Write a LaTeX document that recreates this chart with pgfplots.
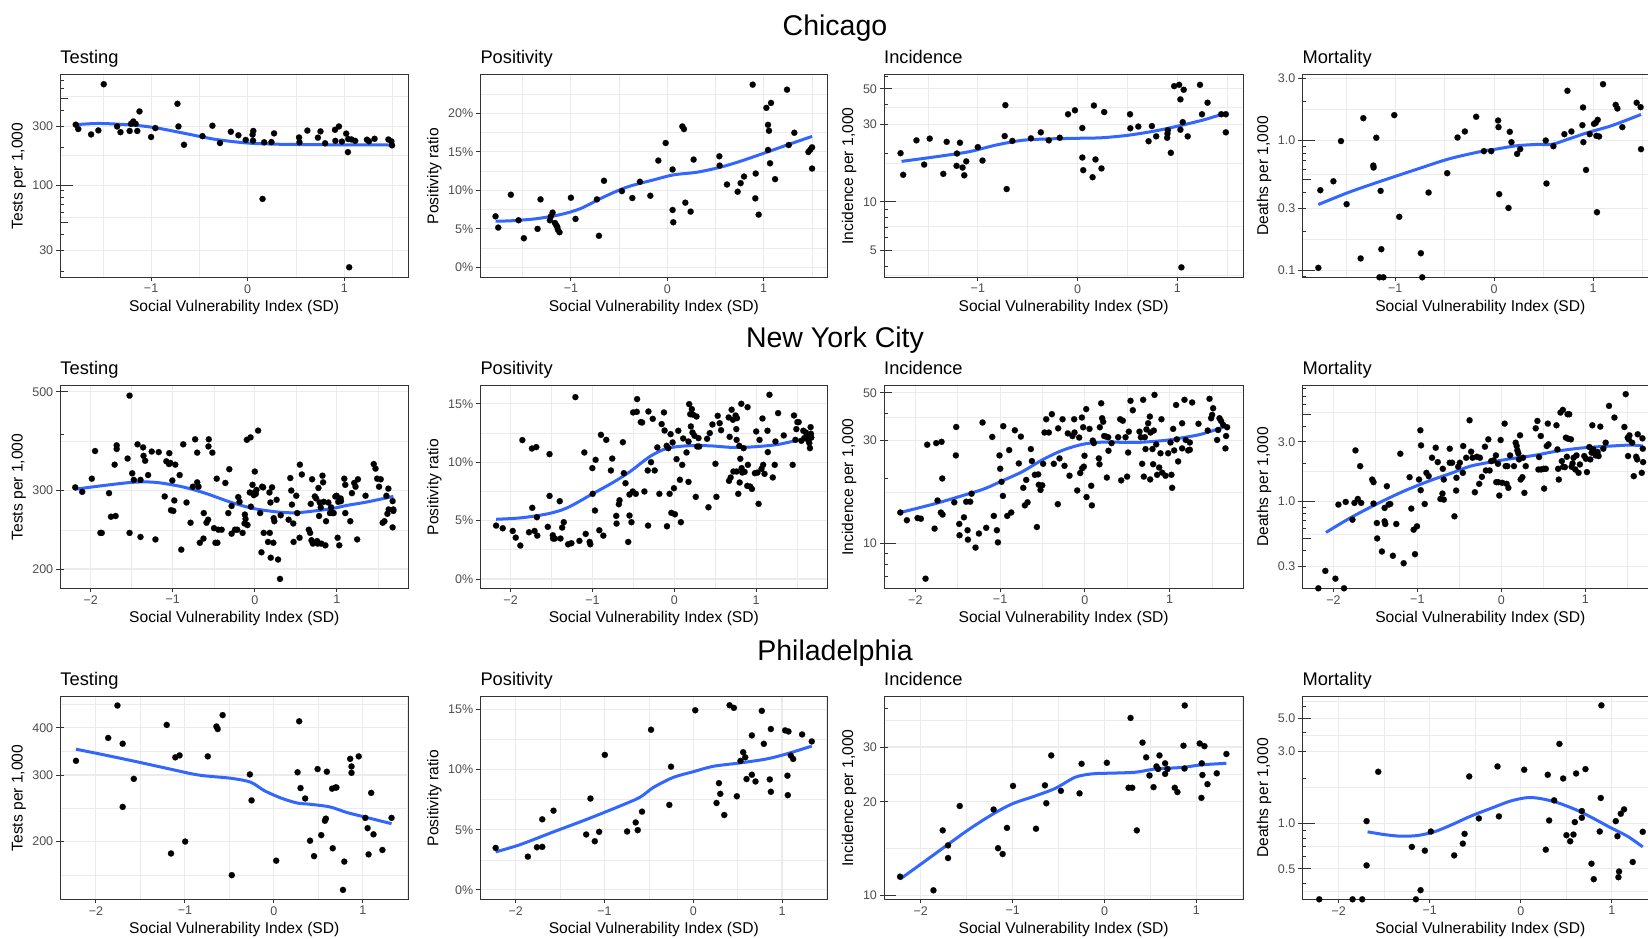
\documentclass[border=0pt]{standalone}
\usepackage{fontspec}
\setmainfont{Liberation Sans}
\usepackage{pgfplots}
\pgfplotsset{compat=1.18}
\definecolor{grey20}{HTML}{333333}
\definecolor{grey30}{HTML}{4D4D4D}
\definecolor{gridc}{HTML}{EBEBEB}
\definecolor{smoothc}{HTML}{3366FF}
\newcommand{\ticksz}{\fontsize{12.5pt}{14pt}\selectfont}
\newcommand{\labsz}{\fontsize{15.6pt}{18pt}\selectfont}
\newcommand{\subsz}{\fontsize{18.3pt}{21pt}\selectfont}
\newcommand{\titsz}{\fontsize{28.5pt}{32pt}\selectfont}
\newcommand{\logt}[2]{\pgfplotsinvokeforeach{#1}{\draw[grey20,line width=0.9pt] ({rel axis cs:0,0} |- {axis cs:0,##1}) -- ++(#2,0pt);}}
\pgfplotsset{
  every axis title/.style={at={(0,1)}, anchor=base west, inner sep=0pt, yshift=11.6pt, font=\subsz},
  panel/.style={
    scale only axis, height=202.5pt, anchor=south west,
    axis line style={grey20, line width=0.9pt},
    tick style={grey20, line width=0.9pt},
    tick align=outside, tick pos=left, major tick length=3.9pt, minor tick length=0pt,
    xmajorgrids, ymajorgrids, xminorgrids, yminorgrids,
    major grid style={gridc, line width=1.1pt},
    minor grid style={gridc, line width=0.55pt},
    xticklabel style={font=\ticksz, text=grey30, inner sep=3pt},
    yticklabel style={font=\ticksz, text=grey30, inner sep=3pt},
    label style={font=\labsz},
    xlabel={Social Vulnerability Index (SD)},
    xlabel style={at={(axis description cs:0.5,0)}, anchor=base, yshift=-34pt},
  },
  chi/.style={xmin=-1.94, xmax=1.66, xtick={-1,0,1}, xticklabels={−1,0,1}, minor xtick={-1.5,-0.5,0.5,1.5}},
  nyc/.style={xmin=-2.37, xmax=1.87, xtick={-2,-1,0,1}, xticklabels={−2,−1,0,1}, minor xtick={-1.5,-0.5,0.5,1.5}},
  phl/.style={xmin=-2.40, xmax=1.51, xtick={-2,-1,0,1}, xticklabels={−2,−1,0,1}, minor xtick={-1.5,-0.5,0.5,1.5}},
  pts/.style={only marks, mark=*, mark size=3.1pt, mark options={fill=black, draw=black, line width=0.1pt}},
  fit/.style={smoothc, line width=3pt, smooth, tension=0.5, no marks},
}
\begin{document}
\begin{tikzpicture}[x=1pt,y=1pt]
\useasboundingbox (0,0) rectangle (1648,938);
\node[font=\titsz, anchor=base] at (835,902) {Chicago};
\node[font=\titsz, anchor=base] at (835,590.3) {New York City};
\node[font=\titsz, anchor=base] at (835,278) {Philadelphia};

% ---------------- Chicago ----------------
\begin{axis}[panel, chi, at={(60.3pt,660.7pt)}, width=347.7pt,
  ymode=log, ymin=18.1, ymax=778, ytick={30,100,300}, yticklabels={30,100,300},
  minor ytick={54.8,173.2,519.6}, ylabel={Tests per 1,000}, title={Testing}]
\addplot[pts] coordinates {(-1.78,308) (-1.754,284) (-1.621,257) (-1.546,277) (-1.49,653) (-1.352,298) (-1.317,268) (-1.222,274) (-1.208,313) (-1.184,327) (-1.16,313) (-1.143,274) (-1.12,394) (-1.0,245) (-0.956,289) (-0.727,454) (-0.717,298) (-0.659,212) (-0.468,249) (-0.365,302) (-0.287,219) (-0.174,270) (-0.096,253) (-0.02,232) (0.051,256) (0.058,274) (0.055,229) (0.171,222) (0.154,77.6) (0.246,223) (0.273,262) (0.532,243) (0.536,222) (0.618,276) (0.727,242) (0.754,272) (0.802,218) (0.904,280) (0.945,298) (0.908,228) (0.976,225) (1.02,261) (1.041,236) (1.038,185) (1.075,234) (1.113,228) (1.051,21.8) (1.235,233) (1.256,226) (1.314,237) (1.457,234) (1.488,226) (1.495,210)};
\addplot[fit] coordinates {(-1.78,308) (-1.536,315) (-1.195,306) (-0.956,291) (-0.683,265) (-0.341,235) (0,219) (0.341,214) (0.853,212) (1.195,212) (1.495,211)};
\logt{20,30,40,60,70,80,90,200,300,400,600,700}{4.1pt}
\logt{50,500}{8.2pt}
\logt{100}{12.3pt}
\end{axis}

\begin{axis}[panel, chi, at={(480.3pt,660.7pt)}, width=347pt,
  ymin=-1.29, ymax=24.98, ytick={0,5,10,15,20}, yticklabels={0\%,5\%,10\%,15\%,20\%},
  minor ytick={2.5,7.5,12.5,17.5,22.5}, ylabel={Positivity ratio}, title={Positivity}]
\addplot[pts] coordinates {(-1.782,6.62) (-1.754,5.16) (-1.623,9.42) (-1.543,6.11) (-1.488,3.78) (-1.346,4.99) (-1.315,8.82) (-1.218,6.11) (-1.19,7.10) (-1.208,6.62) (-1.166,5.76) (-1.142,5.25) (-1.152,5.46) (-1.135,4.90) (-1.118,4.56) (-1.0,9.03) (-0.952,6.28) (-0.73,8.82) (-0.709,4.09) (-0.657,11.23) (-0.471,9.89) (-0.363,8.99) (-0.284,11.1) (-0.176,9.29) (-0.093,13.85) (-0.017,16.13) (0.055,12.69) (0.055,7.44) (0.062,5.85) (0.156,18.28) (0.173,17.94) (0.187,8.39) (0.242,7.23) (0.273,13.98) (0.54,14.41) (0.543,13.2) (0.619,10.75) (0.73,9.81) (0.761,10.92) (0.796,11.78) (0.886,23.7) (0.917,12.17) (0.913,8.95) (0.948,6.84) (1.028,20.69) (1.045,18.49) (1.055,17.72) (1.076,21.33) (1.045,15.23) (1.066,13.5) (1.118,11.44) (1.242,23.05) (1.26,15.87) (1.318,17.46) (1.464,14.97) (1.484,15.27) (1.502,15.57) (1.502,12.82)};
\addplot[fit] coordinates {(-1.782,5.98) (-1.595,6.06) (-1.353,6.32) (-1.111,6.84) (-0.903,7.61) (-0.661,9.12) (-0.419,10.41) (-0.142,11.35) (0.066,12.0) (0.308,12.34) (0.55,12.99) (0.758,13.76) (1.0,14.8) (1.242,15.87) (1.502,16.99)};
\end{axis}

\begin{axis}[panel, chi, at={(884pt,660.7pt)}, width=359.3pt,
  ymode=log, ymin=3.42, ymax=61, ytick={5,10,30,50}, yticklabels={5,10,30,50},
  minor ytick={3.54,7.07,17.3,38.7}, ylabel={Incidence per 1,000}, title={Incidence}]
\addplot[pts] coordinates {(-1.774,20.0) (-1.748,14.7) (-1.615,24.0) (-1.538,17.0) (-1.482,24.6) (-1.346,14.9) (-1.312,23.5) (-1.209,19.9) (-1.213,16.7) (-1.179,23.2) (-1.153,16.3) (-1.136,14.6) (-1.116,17.8) (-1.0,21.8) (-0.953,18.0) (-0.731,25.5) (-0.724,39.6) (-0.711,12.0) (-0.654,23.8) (-0.468,24.7) (-0.369,26.9) (-0.289,24.0) (-0.179,24.9) (-0.096,34.8) (-0.027,36.8) (0.047,28.6) (0.047,18.8) (0.056,15.7) (0.15,14.2) (0.163,39.4) (0.179,18.3) (0.239,16.1) (0.266,35.9) (0.525,34.8) (0.528,28.5) (0.608,29.2) (0.711,23.7) (0.744,29.4) (0.787,25.4) (0.897,24.9) (0.9,26.4) (0.904,27.7) (0.934,20.1) (0.967,51.9) (1.017,52.9) (1.03,43.0) (1.063,49.3) (1.03,27.9) (1.053,31.1) (1.04,3.94) (1.103,25.4) (1.226,52.9) (1.246,34.8) (1.302,41.0) (1.439,34.8) (1.485,34.8) (1.485,26.9)};
\addplot[fit] coordinates {(-1.764,17.8) (-1.422,19.0) (-1.09,20.4) (-0.824,22.4) (-0.558,24.0) (-0.292,24.5) (-0.027,24.7) (0.239,24.9) (0.505,25.8) (0.771,27.4) (1.037,29.7) (1.269,32.2) (1.485,35.4)};
\logt{4,6,7,8,9,20,30,40,60}{4.1pt}
\logt{5,50}{8.2pt}
\logt{10}{12.3pt}
\end{axis}

\begin{axis}[panel, chi, at={(1302.3pt,660.7pt)}, width=356pt,
  ymode=log, ymin=0.0888, ymax=3.2, ytick={0.1,0.3,1,3}, yticklabels={0.1,0.3,1.0,3.0},
  minor ytick={0.173,0.548,1.732}, ylabel={Deaths per 1,000}, title={Mortality}]
\addplot[pts] coordinates {(-1.778,0.105) (-1.758,0.415) (-1.626,0.486) (-1.549,0.99) (-1.492,0.324) (-1.35,0.124) (-1.323,1.485) (-1.222,0.642) (-1.219,0.62) (-1.192,1.05) (-1.148,0.41) (-1.141,0.146) (-1.16,0.0888) (-1.12,0.0888) (-1.01,1.567) (-0.96,0.259) (-0.741,0.136) (-0.727,0.0888) (-0.663,0.398) (-0.475,0.561) (-0.37,1.054) (-0.296,1.173) (-0.182,1.522) (-0.104,0.828) (-0.03,0.828) (0.04,1.425) (0.044,1.267) (0.051,0.387) (0.145,0.303) (0.158,1.166) (0.175,0.971) (0.232,0.789) (0.263,0.858) (0.522,1.0) (0.529,0.467) (0.599,0.904) (0.71,1.119) (0.741,2.41) (0.781,1.173) (0.899,1.795) (0.892,1.312) (0.902,0.971) (0.929,0.594) (0.966,1.119) (1.01,1.343) (1.027,1.368) (1.047,1.442) (1.04,0.281) (1.034,1.086) (1.061,1.073) (1.101,2.71) (1.229,1.88) (1.246,1.762) (1.296,1.267) (1.441,1.95) (1.481,1.804) (1.485,0.858)};
\addplot[fit] coordinates {(-1.778,0.322) (-1.465,0.401) (-1.128,0.492) (-0.791,0.598) (-0.455,0.723) (-0.118,0.828) (0.017,0.858) (0.219,0.910) (0.421,0.932) (0.589,0.937) (0.758,1.03) (0.96,1.159) (1.162,1.281) (1.33,1.426) (1.485,1.585)};
\logt{0.09,0.2,0.3,0.4,0.6,0.7,0.8,0.9,2,3}{4.1pt}
\logt{0.5}{8.2pt}
\logt{0.1,1}{12.3pt}
\end{axis}

% ---------------- New York City ----------------
\begin{axis}[panel, nyc, at={(60.3pt,349.7pt)}, width=348pt,
  ymode=log, ymin=181, ymax=515.6, ytick={200,300,500}, yticklabels={200,300,500},
  minor ytick={244.9,387.3}, ylabel={Tests per 1,000}, title={Testing}]
\addplot[pts] coordinates {(-2.188,305) (-2.103,298) (-1.986,319) (-1.946,368) (-1.776,296) (-1.752,262) (-1.696,263) (-1.881,241) (-1.865,241) (-1.708,343) (-1.683,379) (-1.683,372) (-1.55,354) (-1.526,241) (-1.526,490) (-1.494,328) (-1.474,317) (-1.429,381) (-1.393,317) (-1.393,236) (-1.361,375) (-1.356,359) (-1.336,350) (-1.3,325) (-1.256,367) (-1.211,233) (-1.171,366) (-1.098,291) (-1.078,349) (-1.042,364) (-1.046,344) (-1.029,346) (-1.021,271) (-1.005,316) (-0.993,270) (-0.981,285) (-0.969,343) (-0.916,325) (-0.896,221) (-0.872,381) (-0.832,282) (-0.783,254) (-0.755,306) (-0.727,391) (-0.702,365) (-0.702,313) (-0.686,306) (-0.67,229) (-0.626,234) (-0.622,267) (-0.589,254) (-0.569,258) (-0.565,377) (-0.561,391) (-0.517,365) (-0.497,247) (-0.48,229) (-0.464,319) (-0.456,229) (-0.444,245) (-0.404,245) (-0.359,312) (-0.323,267) (-0.311,335) (-0.283,277) (-0.283,240) (-0.242,245) (-0.214,245) (-0.202,290) (-0.186,283) (-0.149,241) (-0.125,253) (-0.121,265) (-0.113,259) (-0.089,251) (-0.097,390) (-0.061,297) (-0.052,395) (-0.048,276) (0,331) (-0.028,309) (-0.012,293) (0,297) (0.012,295) (0.02,301) (0.04,409) (0.065,267) (0.081,218) (0.089,306) (0.101,305) (0.109,241) (0.161,230) (0.178,297) (0.182,241) (0.19,282) (0.194,212) (0.21,305) (0.23,260) (0.226,229) (0.238,256) (0.266,286) (0.283,210) (0.307,190) (0.315,264) (0.412,258) (0.432,320) (0.444,300) (0.452,279) (0.468,253) (0.472,230) (0.505,292) (0.517,267) (0.545,235) (0.549,343) (0.573,326) (0.658,245) (0.674,241) (0.682,280) (0.69,232) (0.698,318) (0.707,228) (0.731,291) (0.747,288) (0.759,231) (0.767,228) (0.775,304) (0.783,263) (0.791,282) (0.803,275) (0.811,228) (0.824,324) (0.832,313) (0.84,283) (0.86,226) (0.868,256) (0.896,282) (0.916,267) (0.929,275) (0.949,267) (0.961,267) (0.981,291) (0.997,292) (1.009,235) (1.017,283) (1.029,226) (1.046,288) (1.05,284) (1.09,319) (1.102,309) (1.102,267) (1.163,256) (1.183,296) (1.211,312) (1.227,306) (1.247,233) (1.256,318) (1.349,292) (1.449,344) (1.47,336) (1.49,319) (1.514,306) (1.534,318) (1.558,254) (1.579,256) (1.603,292) (1.615,266) (1.627,303) (1.679,284) (1.688,272) (1.688,270) (1.679,248) (1.631,272)};
\addplot[fit] coordinates {(-2.188,302) (-1.897,307) (-1.494,313) (-1.211,313) (-0.888,306) (-0.606,296) (-0.283,282) (0,273) (0.323,268) (0.525,267.6) (0.727,270) (0.929,273) (1.13,278) (1.332,282) (1.534,287) (1.688,291)};
\logt{200,300,400}{4.1pt}
\logt{500}{8.2pt}
\end{axis}

\begin{axis}[panel, nyc, at={(480.3pt,349.7pt)}, width=347pt,
  ymin=-0.8, ymax=16.54, ytick={0,5,10,15}, yticklabels={0\%,5\%,10\%,15\%},
  minor ytick={2.5,7.5,12.5}, ylabel={Positivity ratio}, title={Positivity}]
\addplot[pts] coordinates {(-2.177,4.57) (-2.096,4.34) (-1.974,4.11) (-1.937,3.54) (-1.881,2.86) (-1.856,11.89) (-1.775,4.0) (-1.739,11.17) (-1.735,6.09) (-1.707,4.11) (-1.686,11.29) (-1.678,5.29) (-1.674,3.71) (-1.545,4.46) (-1.524,10.69) (-1.524,7.11) (-1.484,3.74) (-1.48,3.46) (-1.459,3.46) (-1.399,6.66) (-1.39,3.46) (-1.37,4.4) (-1.35,4.86) (-1.297,2.97) (-1.257,3.06) (-1.208,15.57) (-1.159,3.26) (-1.099,10.83) (-1.082,3.86) (-1.034,3.17) (-1.026,2.97) (-1.001,9.49) (-0.997,7.29) (-0.969,5.86) (-0.961,10.2) (-0.916,4.17) (-0.896,12.34) (-0.867,3.71) (-0.831,11.91) (-0.758,10.31) (-0.774,9.29) (-0.709,5.4) (-0.705,4.74) (-0.677,6.4) (-0.669,6.74) (-0.628,11.71) (-0.616,9.06) (-0.596,8.2) (-0.563,3.17) (-0.547,5.43) (-0.547,7.23) (-0.523,4.86) (-0.507,7.49) (-0.503,14.26) (-0.47,7.29) (-0.458,14.31) (-0.454,15.4) (-0.409,13.43) (-0.393,13.4) (-0.365,7.49) (-0.324,9.29) (-0.32,4.57) (-0.316,14.34) (-0.284,10.0) (-0.263,13.71) (-0.239,9.29) (-0.207,11.26) (-0.182,7.29) (-0.154,13.26) (-0.126,14.26) (-0.118,12.71) (-0.093,11.4) (-0.089,4.51) (-0.073,11.2) (-0.057,7.29) (-0.045,12.4) (-0.036,5.66) (-0.02,11.69) (-0.004,7.77) (0.008,5.54) (0.028,10.26) (0.049,12.69) (0.069,8.49) (0.081,4.86) (0.097,9.77) (0.109,12.03) (0.15,10.83) (0.174,8.31) (0.174,11.77) (0.182,14.97) (0.195,14.11) (0.203,13.06) (0.215,14.54) (0.223,12.54) (0.231,14.06) (0.247,12.26) (0.263,7.03) (0.272,13.91) (0.28,11.34) (0.296,12.06) (0.304,11.34) (0.418,6.14) (0.401,12.0) (0.434,12.49) (0.466,13.23) (0.503,9.86) (0.515,7.03) (0.531,13.97) (0.555,13.34) (0.572,12.74) (0.669,8.4) (0.665,13.83) (0.677,12.17) (0.689,8.69) (0.701,14.49) (0.717,13.63) (0.722,9.2) (0.75,14.0) (0.762,9.2) (0.766,13.77) (0.758,12.83) (0.762,11.91) (0.782,7.29) (0.795,11.4) (0.799,8.26) (0.807,10.29) (0.819,15.0) (0.823,9.49) (0.831,9.11) (0.847,11.2) (0.859,9.17) (0.892,7.97) (0.896,14.71) (0.9,9.77) (0.928,7.91) (0.949,7.71) (0.985,9.06) (1.001,12.63) (1.017,9.11) (1.03,6.43) (1.042,11.91) (1.066,9.43) (1.078,13.74) (1.086,9.77) (1.103,9.0) (1.139,12.69) (1.143,10.86) (1.163,15.77) (1.204,8.69) (1.228,9.77) (1.236,11.77) (1.269,14.2) (1.338,12.29) (1.447,9.77) (1.463,14.0) (1.48,11.91) (1.492,12.83) (1.504,13.43) (1.52,13.43) (1.553,11.83) (1.577,12.69) (1.589,12.06) (1.609,12.54) (1.626,12.14) (1.638,11.86) (1.65,11.63) (1.658,11.2) (1.666,13.0) (1.67,12.43) (1.674,12.11)};
\addplot[fit] coordinates {(-2.177,5.11) (-1.877,5.23) (-1.552,5.57) (-1.309,6.09) (-0.985,7.34) (-0.742,8.29) (-0.539,9.2) (-0.296,10.49) (-0.093,11.17) (0.15,11.4) (0.434,11.4) (0.717,11.26) (0.961,11.31) (1.285,11.54) (1.67,12.17)};
\end{axis}

\begin{axis}[panel, nyc, at={(884pt,349.7pt)}, width=359.3pt,
  ymode=log, ymin=6.18, ymax=53.9, ytick={10,30,50}, yticklabels={10,30,50},
  minor ytick={17.3,38.7}, ylabel={Incidence per 1,000}, title={Incidence}]
\addplot[pts] coordinates {(-2.178,13.9) (-2.1,12.8) (-1.974,13.1) (-1.935,13.0) (-1.88,6.85) (-1.86,28.7) (-1.773,11.7) (-1.754,29.2) (-1.738,15.8) (-1.699,13.9) (-1.691,29.6) (-1.683,20.0) (-1.679,13.6) (-1.541,15.5) (-1.522,25.6) (-1.518,34.7) (-1.482,12.3) (-1.479,10.9) (-1.427,13.2) (-1.4,15.6) (-1.384,11.5) (-1.38,10.4) (-1.353,15.6) (-1.337,17.0) (-1.29,9.55) (-1.25,11.1) (-1.207,36.4) (-1.164,11.8) (-1.093,31.2) (-1.074,13.4) (-1.038,11.5) (-1.026,10.1) (-1.007,25.6) (-0.999,22.2) (-0.983,19.3) (-0.967,16.6) (-0.963,35.0) (-0.916,13.4) (-0.893,27.1) (-0.869,13.9) (-0.826,33.5) (-0.779,23.5) (-0.755,31.3) (-0.727,18.1) (-0.708,15.0) (-0.692,19.7) (-0.676,15.5) (-0.637,27.4) (-0.625,24.1) (-0.59,20.8) (-0.566,11.9) (-0.551,20.9) (-0.543,18.7) (-0.523,17.7) (-0.503,18.6) (-0.492,23.4) (-0.456,37.7) (-0.476,32.7) (-0.425,32.7) (-0.389,39.8) (-0.366,23.4) (-0.319,15.2) (-0.315,34.2) (-0.299,24.8) (-0.263,37.7) (-0.24,22.9) (-0.201,32.4) (-0.181,20.6) (-0.146,31.5) (-0.126,37.7) (-0.122,32.7) (-0.09,17.6) (-0.067,31.0) (-0.055,21.2) (-0.035,38.4) (-0.031,22.3) (-0.02,34.6) (-0.012,22.7) (-0.004,25.5) (0.016,42.0) (0.02,16.4) (0.055,34.0) (0.075,18.5) (0.083,15.0) (0.094,30.0) (0.106,29.2) (0.165,24.8) (0.173,23.3) (0.177,34.6) (0.193,44.7) (0.204,38.1) (0.216,36.7) (0.228,31.5) (0.252,31.3) (0.26,20.2) (0.275,31.1) (0.279,26.9) (0.315,29.2) (0.393,31.1) (0.417,37.7) (0.429,19.6) (0.448,37.1) (0.48,31.1) (0.499,20.4) (0.511,26.4) (0.519,33.0) (0.539,45.9) (0.566,41.5) (0.645,33.0) (0.661,31.1) (0.676,23.4) (0.688,46.4) (0.696,20.4) (0.708,31.1) (0.716,27.4) (0.727,33.8) (0.747,36.1) (0.767,38.8) (0.771,19.8) (0.775,32.7) (0.798,27.4) (0.806,23.3) (0.814,33.4) (0.822,48.9) (0.842,28.8) (0.853,20.8) (0.877,22.5) (0.893,26.2) (0.904,37.7) (0.912,21.3) (0.952,20.6) (0.983,26.2) (1.011,29.4) (1.022,20.8) (1.03,18.1) (1.042,34.0) (1.054,27.0) (1.077,43.9) (1.085,30.4) (1.101,24.0) (1.148,27.6) (1.148,36.1) (1.176,46.4) (1.191,30.2) (1.219,27.0) (1.239,29.4) (1.239,27.2) (1.266,45.1) (1.341,35.9) (1.451,33.4) (1.471,46.9) (1.49,38.1) (1.502,39.5) (1.514,42.4) (1.561,30.2) (1.573,33.6) (1.589,38.1) (1.608,37.0) (1.632,35.5) (1.659,27.6) (1.667,31.5) (1.679,34.6)};
\addplot[fit] coordinates {(-2.178,13.9) (-1.762,15.3) (-1.368,17.0) (-1.172,18.0) (-0.975,19.5) (-0.739,21.5) (-0.503,24.4) (-0.267,27.0) (-0.031,28.8) (0.204,29.5) (0.598,29.4) (0.794,29.7) (0.991,30.2) (1.188,31.1) (1.384,32.2) (1.679,35.1)};
\logt{7,8,9,20,30,40}{4.1pt}
\logt{50}{8.2pt}
\logt{10}{12.3pt}
\end{axis}

\begin{axis}[panel, nyc, at={(1302.3pt,349.7pt)}, width=356pt,
  ymode=log, ymin=0.2, ymax=8.46, ytick={0.3,1,3}, yticklabels={0.3,1.0,3.0},
  minor ytick={0.548,1.732,5.2}, ylabel={Deaths per 1,000}, title={Mortality}]
\addplot[pts] coordinates {(-2.179,0.2) (-2.096,0.276) (-1.976,0.239) (-1.873,0.2) (-1.94,0.94) (-1.853,0.988) (-1.773,0.711) (-1.749,0.97) (-1.737,2.562) (-1.709,1.044) (-1.681,1.915) (-1.669,0.97) (-1.538,1.495) (-1.522,1.424) (-1.522,0.958) (-1.482,0.669) (-1.478,0.503) (-1.422,0.395) (-1.39,0.884) (-1.39,0.69) (-1.382,0.657) (-1.363,1.321) (-1.342,0.94) (-1.323,0.951) (-1.291,0.365) (-1.251,0.657) (-1.203,2.408) (-1.163,0.318) (-1.092,1.561) (-1.072,0.873) (-1.044,0.591) (-1.028,0.376) (-1.004,0.629) (-0.98,1.495) (-0.964,3.715) (-0.956,2.811) (-0.96,1.227) (-0.912,0.951) (-0.892,1.692) (-0.865,1.591) (-0.825,2.236) (-0.781,2.692) (-0.757,2.063) (-0.725,1.044) (-0.701,1.153) (-0.697,1.823) (-0.685,1.495) (-0.685,1.031) (-0.614,2.643) (-0.614,2.038) (-0.586,2.038) (-0.558,0.757) (-0.534,1.543) (-0.538,1.219) (-0.514,1.893) (-0.494,2.038) (-0.454,2.777) (-0.458,1.692) (-0.418,2.236) (-0.378,4.473) (-0.359,2.5) (-0.343,2.236) (-0.315,1.182) (-0.291,2.277) (-0.263,1.38) (-0.255,2.236) (-0.231,1.571) (-0.195,2.743) (-0.183,1.768) (-0.155,3.143) (-0.139,1.768) (-0.12,2.102) (-0.092,2.13) (-0.064,2.335) (-0.06,1.424) (-0.04,2.0) (-0.036,1.424) (-0.024,1.111) (-0.008,3.104) (0.012,1.406) (0.04,4.204) (0.052,1.915) (0.064,1.38) (0.084,1.281) (0.072,1.915) (0.104,2.335) (0.151,1.915) (0.171,2.954) (0.183,2.777) (0.191,2.562) (0.203,2.423) (0.211,2.168) (0.223,3.385) (0.231,1.495) (0.251,1.561) (0.259,2.236) (0.275,1.168) (0.291,1.915) (0.41,3.855) (0.43,4.417) (0.442,1.8) (0.45,2.264) (0.47,3.345) (0.474,1.8) (0.506,1.823) (0.51,1.265) (0.53,1.823) (0.542,2.777) (0.554,4.204) (0.562,2.866) (0.657,4.076) (0.669,2.61) (0.677,1.823) (0.685,1.495) (0.705,5.157) (0.721,2.102) (0.733,5.418) (0.737,1.893) (0.757,1.88) (0.769,3.242) (0.781,2.277) (0.789,5.0) (0.809,5.0) (0.797,3.177) (0.829,3.143) (0.837,1.893) (0.849,2.013) (0.861,2.236) (0.881,1.8) (0.896,2.335) (0.92,1.692) (0.936,1.976) (0.988,2.307) (1.008,2.195) (1.02,1.714) (1.048,2.726) (1.06,2.168) (1.076,2.456) (1.084,4.076) (1.096,2.61) (1.124,2.335) (1.147,2.485) (1.159,2.307) (1.179,3.977) (1.215,2.643) (1.243,2.954) (1.283,5.837) (1.347,4.7) (1.466,3.952) (1.482,7.249) (1.506,3.242) (1.51,2.307) (1.518,3.143) (1.526,3.385) (1.558,2.954) (1.578,1.591) (1.606,2.277) (1.618,2.168) (1.625,3.452) (1.673,1.692) (1.681,3.203) (1.685,2.643) (1.689,2.063)};
\addplot[fit] coordinates {(-2.088,0.562) (-1.801,0.734) (-1.482,0.952) (-1.163,1.204) (-0.845,1.468) (-0.606,1.671) (-0.367,1.915) (-0.127,2.063) (0.112,2.195) (0.39,2.335) (0.669,2.531) (0.988,2.692) (1.307,2.777) (1.546,2.829) (1.685,2.777)};
\logt{0.2,0.3,0.4,0.6,0.7,0.8,0.9,2,3,4,6,7,8}{4.1pt}
\logt{0.5,5}{8.2pt}
\logt{1}{12.3pt}
\end{axis}

% ---------------- Philadelphia ----------------
\begin{axis}[panel, phl, at={(60.3pt,38.7pt)}, width=348pt,
  ymode=log, ymin=140.7, ymax=483, ytick={200,300,400}, yticklabels={200,300,400},
  minor ytick={163.3,244.9,346.4,462.5}, ylabel={Tests per 1,000}, title={Testing}]
\addplot[pts] coordinates {(-2.224,327) (-1.862,376) (-1.758,458) (-1.699,363) (-1.699,247) (-1.574,293) (-1.204,407) (-1.156,186) (-1.108,334) (-1.06,338) (-0.997,200) (-0.743,336) (-0.646,403) (-0.632,397) (-0.576,432) (-0.473,163) (-0.27,301) (-0.251,257) (0.026,178) (0.266,305) (0.284,416) (0.299,277) (0.351,260) (0.406,201) (0.451,183) (0.491,311) (0.532,208) (0.573,227) (0.584,230) (0.595,306) (0.654,276) (0.661,192) (0.691,278) (0.702,278) (0.776,149) (0.791,177) (0.857,331) (0.872,316) (0.872,304) (0.953,336) (1.027,231) (1.053,217) (1.064,185) (1.093,269) (1.119,209) (1.219,190) (1.322,231)};
\addplot[fit] coordinates {(-2.224,351) (-1.958,341) (-1.588,327) (-1.219,313) (-0.85,300) (-0.48,294) (-0.259,287) (-0.111,273) (0.074,261) (0.259,253) (0.406,251) (0.628,247) (0.813,239) (0.997,233) (1.322,223)};
\logt{200,300,400}{4.1pt}
\end{axis}

\begin{axis}[panel, phl, at={(480.3pt,38.7pt)}, width=347pt,
  ymin=-0.78, ymax=16.06, ytick={0,5,10,15}, yticklabels={0\%,5\%,10\%,15\%},
  minor ytick={2.5,7.5,12.5}, ylabel={Positivity ratio}, title={Positivity}]
\addplot[pts] coordinates {(-2.227,3.49) (-1.864,2.77) (-1.762,3.55) (-1.702,3.58) (-1.702,5.87) (-1.575,6.59) (-1.207,4.61) (-1.159,7.6) (-1.11,4.05) (-1.061,4.83) (-0.997,11.23) (-0.746,4.86) (-0.649,5.61) (-0.626,4.97) (-0.578,6.51) (-0.476,13.32) (-0.27,7.07) (-0.251,10.25) (0.022,14.94) (0.262,7.23) (0.289,8.88) (0.304,7.99) (0.349,6.23) (0.409,15.36) (0.457,15.14) (0.491,7.79) (0.532,10.73) (0.562,11.45) (0.585,11.03) (0.6,9.22) (0.66,12.85) (0.66,9.58) (0.701,9.02) (0.772,14.89) (0.795,12.15) (0.862,9.19) (0.874,13.38) (0.874,8.16) (1.035,13.27) (1.061,9.5) (1.065,7.88) (1.072,13.18) (1.099,11.17) (1.125,10.89) (1.226,12.93) (1.335,12.35)};
\addplot[fit] coordinates {(-2.227,3.16) (-1.95,3.77) (-1.575,4.83) (-1.2,5.87) (-0.825,6.98) (-0.6,7.71) (-0.45,8.52) (-0.225,9.36) (0,9.83) (0.225,10.28) (0.525,10.56) (0.825,10.89) (1.05,11.31) (1.335,11.96)};
\end{axis}

\begin{axis}[panel, phl, at={(884pt,38.7pt)}, width=359.3pt,
  ymode=log, ymin=9.73, ymax=43.5, ytick={10,20,30}, yticklabels={10,20,30},
  minor ytick={14.14,24.5,36.7}, ylabel={Incidence per 1,000}, title={Incidence}]
\addplot[pts] coordinates {(-2.225,11.5) (-1.862,10.4) (-1.761,16.2) (-1.703,14.5) (-1.703,13.2) (-1.576,19.4) (-1.207,18.9) (-1.159,14.2) (-1.109,13.6) (-1.062,16.5) (-0.996,22.5) (-0.746,16.4) (-0.649,22.6) (-0.634,19.8) (-0.58,28.2) (-0.475,21.7) (-0.272,21.3) (-0.25,26.5) (0.025,26.7) (0.261,22.2) (0.301,22.2) (0.283,37.2) (0.351,16.2) (0.413,31.0) (0.453,27.8) (0.489,24.3) (0.533,22.3) (0.565,26.0) (0.598,28.2) (0.583,25.5) (0.659,26.6) (0.659,24.6) (0.685,25.5) (0.764,22.2) (0.793,21.5) (0.859,30.3) (0.87,25.6) (0.873,40.8) (1.036,30.8) (1.058,26.6) (1.065,24.4) (1.054,20.6) (1.087,30.2) (1.12,22.8) (1.221,24.7) (1.326,28.5)};
\addplot[fit] coordinates {(-2.225,11.3) (-1.986,12.7) (-1.732,14.4) (-1.478,16.3) (-1.225,18.2) (-1.007,19.7) (-0.754,20.9) (-0.536,22.1) (-0.319,24.0) (-0.138,24.6) (0,24.7) (0.333,24.9) (0.551,25.5) (0.841,25.8) (1.058,26.3) (1.326,26.6)};
\logt{20,30,40}{4.1pt}
\logt{10}{12.3pt}
\end{axis}

\begin{axis}[panel, phl, at={(1302.3pt,38.7pt)}, width=356pt,
  ymode=log, ymin=0.314, ymax=6.92, ytick={0.5,1,3,5}, yticklabels={0.5,1.0,3.0,5.0},
  minor ytick={0.353,0.707,1.732,3.87,6.45}, ylabel={Deaths per 1,000}, title={Mortality}]
\addplot[pts] coordinates {(-2.214,0.314) (-1.848,0.314) (-1.742,0.314) (-1.694,1.036) (-1.694,0.527) (-1.566,2.202) (-1.197,0.699) (-1.153,0.314) (-1.101,0.361) (-1.054,0.66) (-0.988,0.884) (-0.732,0.614) (-0.637,0.735) (-0.618,0.853) (-0.567,2.05) (-0.461,1.08) (-0.256,2.39) (-0.241,1.114) (0.037,2.271) (0.274,0.67) (0.296,2.103) (0.311,1.047) (0.366,1.424) (0.424,3.37) (0.465,1.988) (0.501,0.836) (0.542,0.762) (0.578,0.844) (0.593,1.021) (0.607,2.146) (0.67,1.091) (0.67,1.209) (0.71,2.294) (0.776,0.541) (0.801,0.427) (0.867,0.884) (0.878,1.476) (0.885,6.076) (1.043,1.036) (1.061,0.823) (1.072,0.44) (1.079,0.48) (1.098,1.16) (1.134,1.24) (1.229,0.555) (1.339,0.88)};
\addplot[fit] coordinates {(-1.683,0.880) (-1.5,0.844) (-1.317,0.823) (-1.134,0.832) (-0.951,0.880) (-0.768,0.975) (-0.549,1.119) (-0.329,1.259) (-0.11,1.41) (0.073,1.484) (0.22,1.461) (0.402,1.374) (0.622,1.221) (0.805,1.074) (0.988,0.936) (1.171,0.823) (1.339,0.699)};
\logt{0.4,0.6,0.7,0.8,0.9,2,3,4,6}{4.1pt}
\logt{0.5,5}{8.2pt}
\logt{1}{12.3pt}
\end{axis}
\end{tikzpicture}
\end{document}
